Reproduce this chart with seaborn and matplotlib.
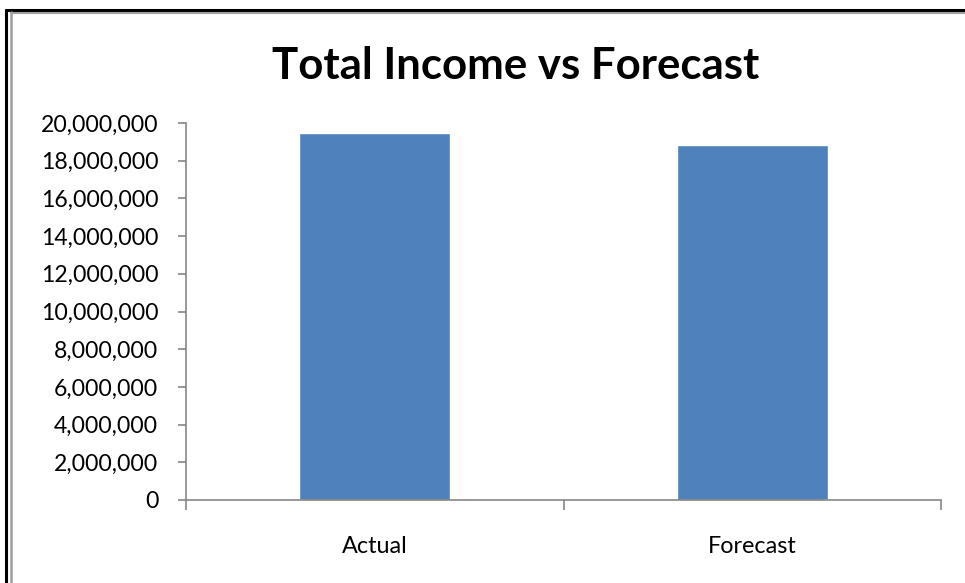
import matplotlib
matplotlib.use("Agg")
import matplotlib.pyplot as plt
import matplotlib.lines as mlines
import matplotlib.ticker as mticker
import seaborn as sns
import pandas as pd

categories = ["Actual", "Forecast"]
values = [19490000, 18830000]
y_ticks = [0, 2000000, 4000000, 6000000, 8000000, 10000000, 12000000,
           14000000, 16000000, 18000000, 20000000]
title = "Total Income vs Forecast"

sns.set_theme(style="white")
plt.rcParams["font.family"] = ["Lato", "DejaVu Sans"]

W, H = 965, 583
fig = plt.figure(figsize=(W / 100, H / 100), dpi=100)
ax = fig.add_axes([186 / W, 1 - 500 / H, (941 - 186) / W, (500 - 123) / H])

df = pd.DataFrame({"cat": categories, "val": values})
sns.barplot(data=df, x="cat", y="val", color="#4F81BD", saturation=1,
            width=0.4, ax=ax)

ax.set_xlim(-0.5, 1.5)
ax.set_ylim(0, 20000000)
ax.set_yticks(y_ticks)
ax.yaxis.set_major_formatter(mticker.FuncFormatter(lambda v, p: f"{int(v):,}"))
ax.set_xlabel("")
ax.set_ylabel("")

ax.set_xticks([0, 1])
ax.set_xticklabels(categories)
ax.set_xticks([-0.5, 0.5, 1.5], minor=True)
ax.tick_params(axis="x", which="major", bottom=True, length=0, pad=26,
               labelsize=16.8, colors="black")
ax.tick_params(axis="x", which="minor", bottom=True, length=7, width=1.2,
               color="#868686", direction="out")
ax.tick_params(axis="y", which="major", length=6, width=1.2, color="#868686",
               direction="out", labelsize=16.6, pad=14, left=True)
for lbl in ax.get_yticklabels() + ax.get_xticklabels():
    lbl.set_color("black")

for s in ["top", "right"]:
    ax.spines[s].set_visible(False)
for s in ["left", "bottom"]:
    ax.spines[s].set_color("#868686")
    ax.spines[s].set_linewidth(1.2)

fig.text(516 / W, 1 - 66 / H, title, ha="center", va="center",
         fontsize=31.5, fontweight="bold", color="black")

# outer borders (black + gray), like the Excel chart frame
fig.add_artist(mlines.Line2D([6 / W, 6 / W], [0, 1 - 10 / H], color="black", lw=2.2, transform=fig.transFigure))
fig.add_artist(mlines.Line2D([6 / W, 1], [1 - 10 / H, 1 - 10 / H], color="black", lw=2.2, transform=fig.transFigure))
fig.add_artist(mlines.Line2D([10.5 / W, 10.5 / W], [0, 1 - 12 / H], color="#A0A0A0", lw=1.8, transform=fig.transFigure))
fig.add_artist(mlines.Line2D([10.5 / W, 1], [1 - 12.5 / H, 1 - 12.5 / H], color="#A0A0A0", lw=1.5, transform=fig.transFigure))

fig.savefig("out.png", dpi=100)
